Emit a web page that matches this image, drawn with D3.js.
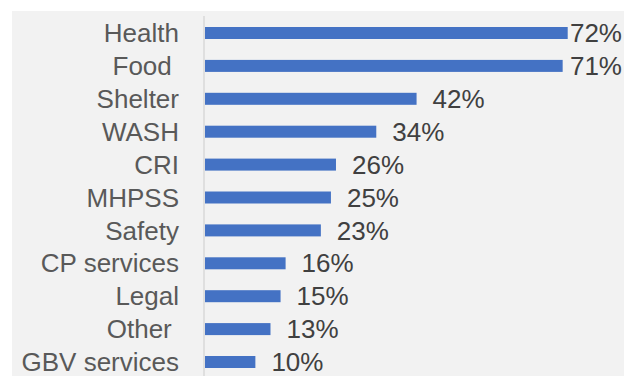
<!DOCTYPE html>
<html>
<head>
<meta charset="utf-8">
<script src="https://cdn.jsdelivr.net/npm/d3@7"></script>
<style>
  body { margin: 0; background: #fff; }
  text { font-family: "Liberation Sans", Arial, sans-serif; }
</style>
</head>
<body>
<svg class="bar-chart"></svg>
<script>
// categories top to bottom, values as share of respondents
const categories = ["Health", "Food ", "Shelter", "WASH", "CRI", "MHPSS", "Safety", "CP services", "Legal", "Other ", "GBV services"];
const values = [0.72, 0.71, 0.42, 0.34, 0.26, 0.25, 0.23, 0.16, 0.15, 0.13, 0.10];
const valueLabels = ["72%", "71%", "42%", "34%", "26%", "25%", "23%", "16%", "15%", "13%", "10%"];

const width = 624, height = 376;

var svg = d3.select(".bar-chart")
  .attr("width", width)
  .attr("height", height);

// grey plot background
svg.append("rect")
  .attr("x", 12)
  .attr("y", 11)
  .attr("width", width - 12)
  .attr("height", height - 11)
  .attr("fill", "#f2f2f2");

const xScale = d3.scaleLinear()
  .domain([0, 0.8])
  .range([205, 608]);

const yScale = d3.scalePoint()
  .domain(categories)
  .range([33, 362]);

const barHeight = 12;

// vertical axis line
svg.append("line")
  .attr("x1", 204).attr("x2", 204)
  .attr("y1", 16).attr("y2", height)
  .attr("stroke", "#d9d9d9")
  .attr("stroke-width", 1.5);

svg.selectAll("rect.bar")
  .data(values)
  .enter().append("rect")
  .attr("class", "bar")
  .attr("x", xScale(0))
  .attr("y", (d, i) => yScale(categories[i]) - barHeight / 2)
  .attr("width", d => xScale(d) - xScale(0))
  .attr("height", barHeight)
  .attr("fill", "#4472c4");

// category labels
svg.selectAll("text.cat")
  .data(categories)
  .enter().append("text")
  .attr("class", "cat")
  .attr("xml:space", "preserve")
  .style("white-space", "pre")
  .attr("x", 179)
  .attr("y", d => yScale(d))
  .attr("dy", "0.35em")
  .attr("text-anchor", "end")
  .attr("font-size", 26)
  .attr("fill", "#595959")
  .text(d => d);

// value labels, pushed back inside the chart when they'd overflow
svg.selectAll("text.val")
  .data(values)
  .enter().append("text")
  .attr("class", "val")
  .attr("y", (d, i) => yScale(categories[i]))
  .attr("dy", "0.35em")
  .attr("font-size", 26)
  .attr("fill", "#404040")
  .text((d, i) => valueLabels[i])
  .attr("x", function(d) {
    var w = this.getComputedTextLength();
    return Math.min(xScale(d) + 16, 622 - w);
  });
</script>
</body>
</html>
